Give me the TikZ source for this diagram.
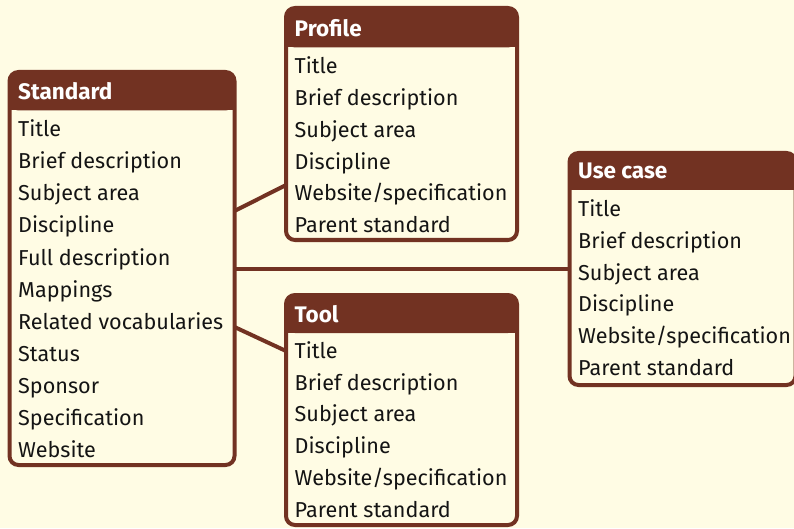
\documentclass[tikz,border=0pt]{standalone}
\usepackage{fontspec}
\setmainfont{Fira Sans}
\usepackage{tikz}
\usetikzlibrary{calc,positioning}
\definecolor{umber}{RGB}{114,50,34}
\definecolor{cream}{RGB}{255,252,228}
\definecolor{ink}{RGB}{20,20,20}
\tikzstyle{entity}=[draw=umber,line width=4pt,rounded corners=9pt,fill=cream,inner sep=0pt,outer sep=0pt]
\tikzstyle{enthead}=[anchor=base west,inner sep=0pt,text=white,font=\fontsize{22.5}{26}\selectfont\bfseries]
\tikzstyle{field}=[anchor=base west,inner sep=0pt,text=ink,font=\fontsize{21.6}{26}\selectfont]
\tikzstyle{link}=[draw=umber,line width=4pt]

\begin{document}
\begin{tikzpicture}[x=1pt,y=1pt]
 \fill[cream] (0,0) rectangle (794,528);
 \useasboundingbox (0,0) rectangle (794,528);

 % Standard
 \node[entity,anchor=north west,minimum width=225pt,minimum height=393pt] (std) at (9.5,456) {};
 \fill[umber,rounded corners=9pt] (std.north west) rectangle ($(std.north east)+(0,-38.5)$);
 \fill[umber] ($(std.north west)+(0,-20)$) rectangle ($(std.north east)+(0,-38.5)$);
 \node[enthead] (stdhead) at ($(std.north west)+(8.5,-27.5)$) {Standard};
 \foreach \txt [count=\i] in {Title,Brief description,Subject area,Discipline,Full description,Mappings,Related vocabularies,Status,Sponsor,Specification,Website}
  \node[field] (std-\i) at ($(stdhead.base west)+(0,-37.5-32*\i+32)$) {\txt};

 % Profile
 \node[entity,anchor=north west,minimum width=231pt,minimum height=232pt] (prof) at (286,520) {};
 \fill[umber,rounded corners=9pt] (prof.north west) rectangle ($(prof.north east)+(0,-39.5)$);
 \fill[umber] ($(prof.north west)+(0,-20)$) rectangle ($(prof.north east)+(0,-39.5)$);
 \node[enthead] (profhead) at ($(prof.north west)+(8.5,-28.5)$) {Profile};
 \foreach \txt [count=\i] in {Title,Brief description,Subject area,Discipline,Website/specification,Parent standard}
  \node[field] (prof-\i) at ($(profhead.base west)+(0,-37.2-31.8*\i+31.8)$) {\txt};

 % Tool
 \node[entity,anchor=north west,minimum width=231pt,minimum height=230pt] (tool) at (286,233) {};
 \fill[umber,rounded corners=9pt] (tool.north west) rectangle ($(tool.north east)+(0,-38)$);
 \fill[umber] ($(tool.north west)+(0,-20)$) rectangle ($(tool.north east)+(0,-38)$);
 \node[enthead] (toolhead) at ($(tool.north west)+(8.5,-27)$) {Tool};
 \foreach \txt [count=\i] in {Title,Brief description,Subject area,Discipline,Website/specification,Parent standard}
  \node[field] (tool-\i) at ($(toolhead.base west)+(0,-36.3-31.8*\i+31.8)$) {\txt};

 % Use case
 \node[entity,anchor=north west,minimum width=226pt,minimum height=232pt] (uc) at (569.5,375) {};
 \fill[umber,rounded corners=9pt] (uc.north west) rectangle ($(uc.north east)+(0,-37)$);
 \fill[umber] ($(uc.north west)+(0,-20)$) rectangle ($(uc.north east)+(0,-37)$);
 \node[enthead] (uchead) at ($(uc.north west)+(8.5,-25.5)$) {Use case};
 \foreach \txt [count=\i] in {Title,Brief description,Subject area,Discipline,Website/specification,Parent standard}
  \node[field] (uc-\i) at ($(uchead.base west)+(0,-38-31.8*\i+31.8)$) {\txt};

 % links
 \draw[link] ($(std.east)+(0,57.5)$) -- ($(prof.west)+(0,-61)$);
 \draw[link] (std.east) -- (std.east -| uc.west);
 \draw[link] ($(std.east)+(0,-58.5)$) -- ($(tool.west)+(0,59)$);
\end{tikzpicture}
\end{document}
